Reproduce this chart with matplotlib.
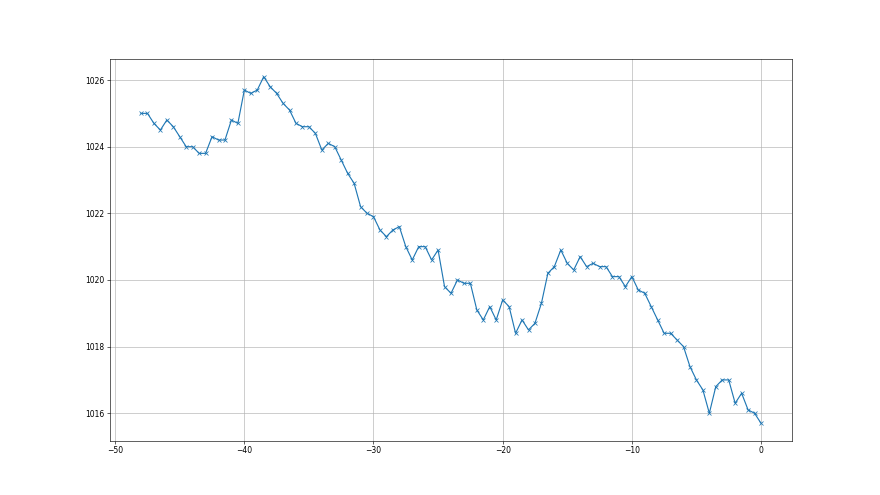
import numpy as np
import matplotlib
matplotlib.use("Agg")
import matplotlib.pyplot as plt

# hours relative to now, one reading every 30 minutes
hours = np.arange(-48, 0.5, 0.5)
pressure = [
    1025.0, 1025.0, 1024.7, 1024.5, 1024.8, 1024.6, 1024.3, 1024.0, 1024.0,
    1023.8, 1023.8, 1024.3, 1024.2, 1024.2, 1024.8, 1024.7, 1025.7,
    1025.6, 1025.7, 1026.1, 1025.8, 1025.6, 1025.3, 1025.1, 1024.7,
    1024.6, 1024.6, 1024.4, 1023.9, 1024.1, 1024.0, 1023.6, 1023.2,
    1022.9, 1022.2, 1022.0, 1021.9, 1021.5, 1021.3, 1021.5, 1021.6,
    1021.0, 1020.6, 1021.0, 1021.0, 1020.6, 1020.9, 1019.8, 1019.6,
    1020.0, 1019.9, 1019.9, 1019.1, 1018.8, 1019.2, 1018.8, 1019.4,
    1019.2, 1018.4, 1018.8, 1018.5, 1018.7, 1019.3, 1020.2, 1020.4,
    1020.9, 1020.5, 1020.3, 1020.7, 1020.4, 1020.5, 1020.4, 1020.4,
    1020.1, 1020.1, 1019.8, 1020.1, 1019.7, 1019.6, 1019.2, 1018.8,
    1018.4, 1018.4, 1018.2, 1018.0, 1017.4, 1017.0, 1016.7, 1016.0,
    1016.8, 1017.0, 1017.0, 1016.3, 1016.6, 1016.1, 1016.0, 1015.7,
]

fig, ax = plt.subplots(figsize=(16, 9), dpi=55)
ax.plot(hours, pressure, marker='x')
ax.grid(True)
fig.savefig("out.png")
